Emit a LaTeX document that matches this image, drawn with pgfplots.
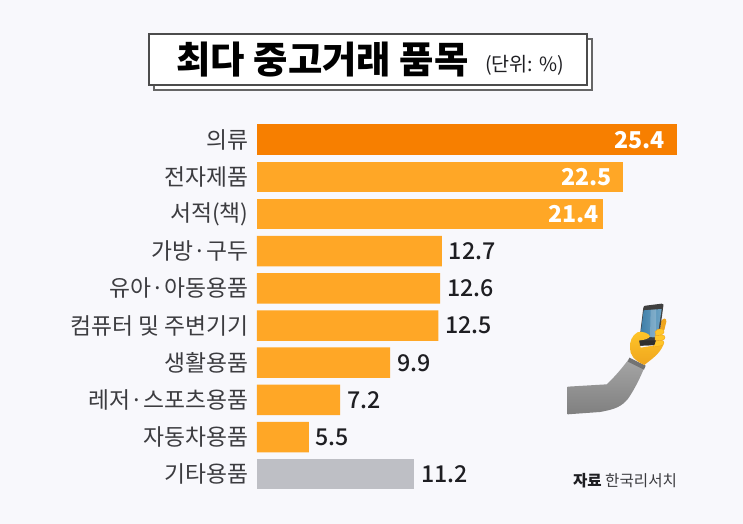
\documentclass[border=0pt]{standalone}
\usepackage{pgfplots}
\pgfplotsset{compat=1.18}
\usepackage{fontspec}
\setmainfont{Noto Sans CJK KR}
\newfontfamily\krblack{Noto Sans CJK KR Black}
\newfontfamily\krmed{Noto Sans CJK KR Medium}
\definecolor{bgc}{HTML}{F8F8FC}
\definecolor{topo}{HTML}{F77F00}
\definecolor{baro}{HTML}{FFA726}
\definecolor{barg}{HTML}{BEBFC5}
\definecolor{txt}{HTML}{1E1E22}
\definecolor{lab}{HTML}{3C3C40}
\definecolor{handy}{HTML}{FFC629}
\definecolor{hando}{HTML}{EFA51E}
\definecolor{scra}{HTML}{3F7EA8}
\definecolor{scrb}{HTML}{6FA5C6}
\begin{document}
\begin{tikzpicture}
\fill[bgc] (0,0) rectangle (557.25pt,393pt);
\begin{axis}[
  at={(192.75pt,23.4pt)},anchor=south west,
  scale only axis,width=332.25pt,height=278.8pt,
  xmin=2.7,xmax=26.65,ymin=-0.5,ymax=9.5,y dir=reverse,
  axis x line=none,axis y line*=left,
  y axis line style={draw=none},
  ytick={0,...,9},
  yticklabels={의류,전자제품,서적(책),가방·구두,유아·아동용품,컴퓨터 및 주변기기,생활용품,레저·스포츠용품,자동차용품,기타용품},
  major tick length=0pt,
  yticklabel style={font=\fontsize{17.1pt}{19pt}\selectfont,text=lab,inner sep=0pt,xshift=-6.2pt},
  xbar,bar width=22.9pt,
  every axis plot/.append style={draw=none,bar shift=0pt},
  clip=false,
]
\addplot[fill=topo,nodes near coords,nodes near coords style={anchor=east,inner sep=0pt,text=white,font=\bfseries\fontsize{17.4pt}{19pt}\selectfont,xshift=-9pt},point meta=explicit symbolic] coordinates {(25.4,0)[25.4]};
\addplot[fill=baro,nodes near coords,nodes near coords style={anchor=east,inner sep=0pt,text=white,font=\bfseries\fontsize{17.4pt}{19pt}\selectfont,xshift=-8.25pt},point meta=explicit symbolic] coordinates {(22.5,1)[22.5]};
\addplot[fill=baro,nodes near coords,nodes near coords style={anchor=east,inner sep=0pt,text=white,font=\bfseries\fontsize{17.4pt}{19pt}\selectfont,xshift=-3pt},point meta=explicit symbolic] coordinates {(21.4,2)[21.4]};
\addplot[fill=baro,nodes near coords,nodes near coords style={anchor=west,inner sep=0pt,text=txt,font=\krmed\fontsize{17.4pt}{19pt}\selectfont,xshift=5pt},point meta=explicit symbolic] coordinates {(12.7,3)[12.7] (12.6,4)[12.6] (12.5,5)[12.5] (9.9,6)[9.9] (7.2,7)[7.2] (5.5,8)[5.5]};
\addplot[fill=barg,nodes near coords,nodes near coords style={anchor=west,inner sep=0pt,text=txt,font=\krmed\fontsize{17.4pt}{19pt}\selectfont,xshift=5pt},point meta=explicit symbolic] coordinates {(11.2,9)[11.2]};
\end{axis}
\begin{scope}[x=.75pt,y=-.75pt,shift={(0,393pt)}]
  % title boxes
  \draw[fill=white,draw=black!60,line width=.9pt] (154,39) rectangle (592,90);
  \draw[fill=white,draw=black!70,line width=.9pt] (149,34) rectangle (587,85);
  \node[anchor=center,inner sep=0pt,text=black] at (322.5,60) {\krblack\fontsize{28pt}{30pt}\selectfont 최다 중고거래 품목};
  \node[anchor=center,inner sep=0pt,text=txt] at (524.5,65) {\fontsize{14.7pt}{16pt}\selectfont (단위: \%)};
  % source
  \node[anchor=center,inner sep=0pt,text=txt] at (625,480.5) {\fontsize{11.7pt}{13pt}\selectfont\textbf{자료} {\color{lab}한국리서치}};
\end{scope}
% arm illustration
\begin{scope}[shift={(405pt,175.5pt)},x=.25pt,y=-.25pt]
  \path[top color=black!35,bottom color=black!50]
    (83,290) -- (200,283) .. controls (225,260) and (250,230) .. (268,205) -- (315,228)
    .. controls (300,265) and (285,295) .. (265,325) .. controls (245,350) and (225,358) .. (180,366) -- (83,373) -- cycle;
  \begin{scope}[shift={(180,15)}]
    % cuff
    \path[fill=black!55] (88,188) -- (137,212) -- (132,224) -- (84,200) -- cycle;
    % back finger
    \path[fill=hando] (183,78) .. controls (190,68) and (200,68) .. (199,80) -- (193,105) -- (180,105) -- cycle;
    % phone
    \path[fill=black!75] (130,38) .. controls (131,33) and (133,32) .. (137,32) -- (185,26) .. controls (190,26) and (191,29) .. (190,33) -- (174,150) -- (116,152) -- cycle;
    % screen
    \path[left color=scra,right color=scrb] (131,46) -- (185,42) -- (172,128) -- (121,124) -- cycle;
    \path[fill=white,opacity=.2] (152,44) -- (168,43) -- (168,126) -- (150,126) -- cycle;
    % palm and thumb
    \path[top color=handy,bottom color=hando] (112,112) .. controls (96,122) and (88,140) .. (90,160)
      .. controls (90,178) and (100,195) .. (133,210)
      .. controls (155,192) and (178,178) .. (190,150) -- (160,152) -- (122,158) -- (118,138)
      .. controls (130,134) and (148,132) .. (150,124) .. controls (148,116) and (125,106) .. (112,112) -- cycle;
    % fingers
    \path[fill=handy,draw=hando,line width=.3pt] (165,110) .. controls (172,100) and (190,98) .. (192,108) .. controls (194,116) and (185,122) .. (168,122) -- cycle;
    \path[fill=handy,draw=hando,line width=.3pt] (165,122) -- (186,120) .. controls (198,120) and (198,134) .. (186,136) -- (165,138) -- cycle;
    \path[fill=handy,draw=hando,line width=.3pt] (165,138) -- (184,136) .. controls (195,136) and (194,150) .. (184,152) -- (160,156) -- cycle;
    % phone bottom band over palm
    \path[fill=black!82] (118,136) -- (168,136) -- (163,150) -- (120,152) -- cycle;
  \end{scope}
\end{scope}
\end{tikzpicture}
\end{document}
